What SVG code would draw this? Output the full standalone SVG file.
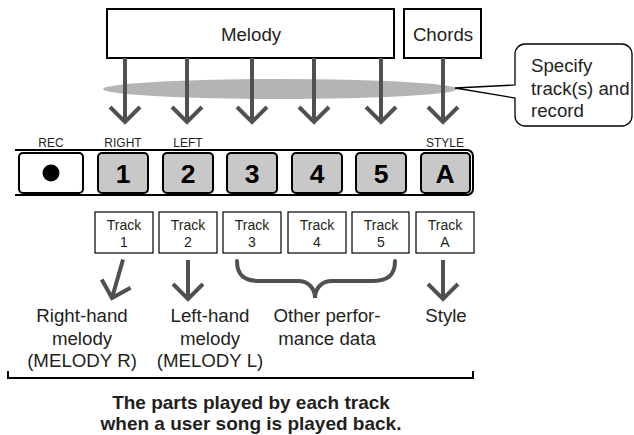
<svg xmlns="http://www.w3.org/2000/svg" width="634" height="435" viewBox="0 0 634 435">
<style>
text{font-family:"Liberation Sans",Arial,sans-serif;fill:#231f20}
.big{font-size:18.7px}
.lbl{font-size:12px;text-anchor:middle}
.trk{font-size:14px;text-anchor:middle}
.num{font-size:26.5px;font-weight:bold;text-anchor:middle;fill:#000}
.mid{text-anchor:middle}
.box{fill:#fff;stroke:#000;stroke-width:2}
.btn{fill:#c8c8c8;stroke:#000;stroke-width:2}
.tbox{fill:#fff;stroke:#000;stroke-width:1.2}
.arr{fill:none;stroke:#505050;stroke-width:4;stroke-linejoin:miter}
.bold{font-size:19px;font-weight:bold;text-anchor:middle}
</style>
<rect width="634" height="435" fill="#fff"/>
<ellipse id="band" cx="280" cy="89" rx="177" ry="10" fill="#b4b4b4"/>
<g id="melody"><rect class="box" x="107" y="9" width="287" height="49"/><text class="big mid" x="251" y="41">Melody</text></g>
<g id="chords"><rect class="box" x="404" y="9" width="77" height="49"/><text class="big mid" x="443" y="41">Chords</text></g>
<g id="callout"><path d="M525,44 H622 A10,10 0 0 1 632,54 V116 A10,10 0 0 1 622,126 H525 A10,10 0 0 1 515,116 V98 L455,88 L515,85 V54 A10,10 0 0 1 525,44 Z" fill="#fff" stroke="#000" stroke-width="1.3"/>
<text class="big" x="531" y="72">Specify</text><text class="big" x="531" y="94.5">track(s) and</text><text class="big" x="531" y="117">record</text></g>
<g id="connectors">
<path class="arr" d="M125,58 V120 M110,107 L125,122 L140,107"/>
<path class="arr" d="M187,58 V120 M172,107 L187,122 L202,107"/>
<path class="arr" d="M252,58 V120 M237,107 L252,122 L267,107"/>
<path class="arr" d="M314,58 V120 M299,107 L314,122 L329,107"/>
<path class="arr" d="M381,58 V120 M366,107 L381,122 L396,107"/>
<path class="arr" d="M443,58 V120 M428,107 L443,122 L458,107"/>
<path class="arr" transform="rotate(16 112 298)" d="M112,258 V296 M97,283 L112,298 L127,283"/>
<path class="arr" d="M188,260 V297 M173,284 L188,299 L203,284"/>
<path class="arr" d="M443,260 V297 M428,284 L443,299 L458,284"/>
<path class="arr" stroke-linecap="round" d="M237,261 C237,276 245,281 260,281 H298 C308,281 315,288 315,298 C315,288 322,281 332,281 H372 C387,281 395,276 395,261"/>
</g>
<g id="panel">
<path d="M15,150 H467 A6,6 0 0 1 473,156 V189 A6,6 0 0 1 467,195 H15" fill="none" stroke="#000" stroke-width="2"/>
<text class="lbl" x="51" y="147">REC</text>
<text class="lbl" x="123" y="147">RIGHT</text>
<text class="lbl" x="188" y="147">LEFT</text>
<text class="lbl" x="445" y="147">STYLE</text>
</g>
<g id="btn-rec"><rect class="box" x="19" y="153" width="64" height="40" rx="4"/><circle cx="51" cy="173" r="8.5" fill="#000"/></g>
<g id="btn-1"><rect class="btn" x="98" y="153" width="50" height="40" rx="4"/><text class="num" x="123" y="183">1</text></g>
<g id="btn-2"><rect class="btn" x="163" y="153" width="50" height="40" rx="4"/><text class="num" x="188" y="183">2</text></g>
<g id="btn-3"><rect class="btn" x="227" y="153" width="50" height="40" rx="4"/><text class="num" x="252" y="183">3</text></g>
<g id="btn-4"><rect class="btn" x="292" y="153" width="50" height="40" rx="4"/><text class="num" x="317" y="183">4</text></g>
<g id="btn-5"><rect class="btn" x="356" y="153" width="50" height="40" rx="4"/><text class="num" x="381" y="183">5</text></g>
<g id="btn-a"><rect class="btn" x="421" y="153" width="49" height="40" rx="4"/><text class="num" x="445" y="183">A</text></g>
<g id="track-1"><rect class="tbox" x="95" y="212" width="58" height="41"/><text class="trk" x="124" y="230">Track</text><text class="trk" x="124" y="247">1</text></g>
<g id="track-2"><rect class="tbox" x="159" y="212" width="58" height="41"/><text class="trk" x="188" y="230">Track</text><text class="trk" x="188" y="247">2</text></g>
<g id="track-3"><rect class="tbox" x="223" y="212" width="58" height="41"/><text class="trk" x="252" y="230">Track</text><text class="trk" x="252" y="247">3</text></g>
<g id="track-4"><rect class="tbox" x="288" y="212" width="58" height="41"/><text class="trk" x="317" y="230">Track</text><text class="trk" x="317" y="247">4</text></g>
<g id="track-5"><rect class="tbox" x="352" y="212" width="57" height="41"/><text class="trk" x="381" y="230">Track</text><text class="trk" x="381" y="247">5</text></g>
<g id="track-a"><rect class="tbox" x="416" y="212" width="58" height="41"/><text class="trk" x="445" y="230">Track</text><text class="trk" x="445" y="247">A</text></g>
<g id="right-hand"><text class="big mid" x="82" y="322">Right-hand</text><text class="big mid" x="82" y="345">melody</text><text class="big mid" x="82" y="367">(MELODY R)</text></g>
<g id="left-hand"><text class="big mid" x="210" y="322">Left-hand</text><text class="big mid" x="210" y="345">melody</text><text class="big mid" x="210" y="367">(MELODY L)</text></g>
<g id="other"><text class="big mid" x="327" y="322">Other perfor-</text><text class="big mid" x="327" y="345">mance data</text></g>
<g id="style"><text class="big mid" x="446" y="322">Style</text></g>
<g id="bracket"><path d="M8,371 V378 H473 V371" fill="none" stroke="#000" stroke-width="2"/>
<text class="bold" x="251" y="409">The parts played by each track</text>
<text class="bold" x="251" y="430">when a user song is played back.</text></g>
</svg>
